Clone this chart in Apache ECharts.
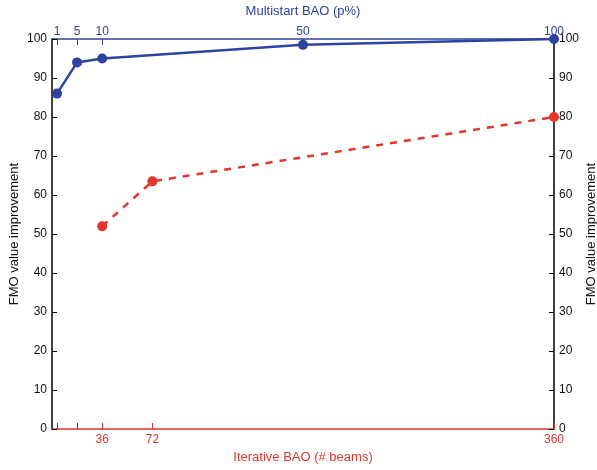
<!DOCTYPE html>
<html>
<head>
<meta charset="utf-8">
<script src="https://cdn.jsdelivr.net/npm/echarts@6/dist/echarts.min.js"></script>
<style>
  html, body { margin: 0; padding: 0; background: #fff; }
  #chart { width: 597px; height: 470px; }
</style>
</head>
<body>
<div id="chart"></div>
<script>
// top axis: multistart BAO (p%)
const multistartP = [1, 5, 10, 50, 100]
const multistartFmo = [86, 94, 95, 98.5, 100]
// bottom axis: iterative BAO (# beams)
const iterativeBeams = [36, 72, 360]
const iterativeFmo = [52, 63.5, 80]
const yTicks = [0, 10, 20, 30, 40, 50, 60, 70, 80, 90, 100]

const BLUE = '#2e43a1'
const RED = '#e2352b'
const FONT = 'Liberation Sans'

const chart = echarts.init(document.getElementById('chart'))

const yAxisBase = (pos) => ({
  type: 'value',
  position: pos,
  min: yTicks[0],
  max: yTicks[yTicks.length - 1],
  interval: 10,
  name: 'FMO value improvement',
  nameLocation: 'middle',
  nameGap: 31,
  nameMoveOverlap: false,
  nameRotate: 90,
  nameTextStyle: { color: '#111', fontFamily: FONT, fontSize: 13 },
  axisLine: { show: true, onZero: false, lineStyle: { color: '#000', width: 1.5 } },
  axisTick: { show: true, inside: true, length: 5, lineStyle: { color: '#000' } },
  axisLabel: { color: '#111', fontFamily: FONT, fontSize: 12, margin: 5 },
  splitLine: { show: false }
})

chart.setOption({
  animation: false,
  grid: { left: 52, right: 43, top: 39, bottom: 41, outerBoundsMode: 'none' },
  xAxis: [
    {
      type: 'value',
      position: 'top',
      min: 0,
      max: 100,
      name: 'Multistart BAO (p%)',
      nameLocation: 'middle',
      nameGap: 21,
      nameTextStyle: { color: BLUE, fontFamily: FONT, fontSize: 13 },
      axisLine: { show: true, onZero: false, lineStyle: { color: BLUE, width: 1.5 } },
      axisTick: { show: true, inside: true, length: 6, customValues: multistartP, lineStyle: { color: BLUE } },
      axisLabel: { color: BLUE, fontFamily: FONT, fontSize: 12, margin: 1, customValues: multistartP },
      splitLine: { show: false }
    },
    {
      type: 'value',
      position: 'bottom',
      min: 0,
      max: 360,
      name: 'Iterative BAO (# beams)',
      nameLocation: 'middle',
      nameGap: 21,
      nameTextStyle: { color: RED, fontFamily: FONT, fontSize: 13 },
      axisLine: { show: true, onZero: false, lineStyle: { color: RED, width: 1.5 } },
      axisTick: { show: true, inside: true, length: 6, customValues: iterativeBeams, lineStyle: { color: RED } },
      axisLabel: { color: RED, fontFamily: FONT, fontSize: 12, margin: 5, customValues: iterativeBeams },
      splitLine: { show: false }
    },
    {
      // mirrored blue ticks along the bottom
      type: 'value',
      position: 'top',
      offset: -390,
      min: 0,
      max: 100,
      axisLine: { show: false, onZero: false },
      axisTick: { show: true, inside: false, length: 6, customValues: [1, 5], lineStyle: { color: BLUE } },
      axisLabel: { show: false },
      splitLine: { show: false }
    }
  ],
  yAxis: [yAxisBase('left'), yAxisBase('right')],
  series: [
    {
      name: 'Multistart BAO',
      type: 'line',
      xAxisIndex: 0,
      yAxisIndex: 0,
      data: multistartP.map((p, i) => [p, multistartFmo[i]]),
      symbol: 'circle',
      symbolSize: 10,
      itemStyle: { color: BLUE },
      lineStyle: { color: BLUE, width: 2.5 },
      z: 5
    },
    {
      name: 'Iterative BAO',
      type: 'line',
      xAxisIndex: 1,
      yAxisIndex: 0,
      data: iterativeBeams.map((b, i) => [b, iterativeFmo[i]]),
      symbol: 'circle',
      symbolSize: 10,
      itemStyle: { color: RED },
      lineStyle: { color: RED, width: 2.5, type: [7, 7] },
      z: 4
    }
  ]
})
</script>
</body>
</html>
